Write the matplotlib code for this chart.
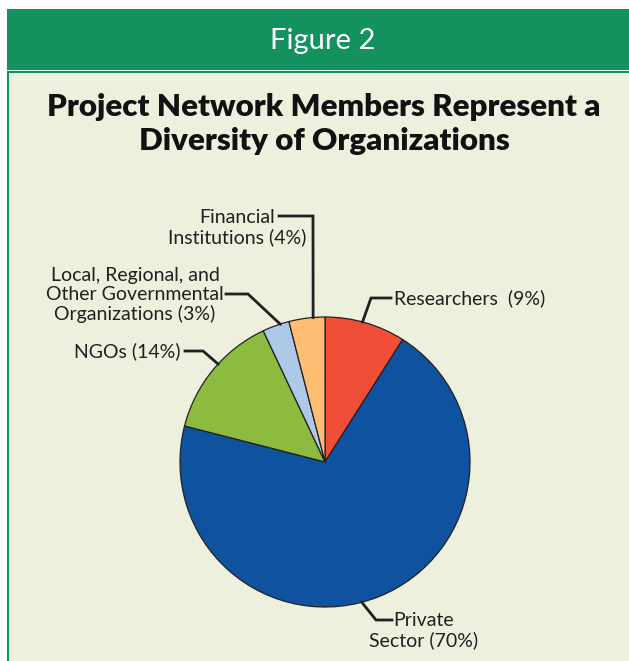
import matplotlib.pyplot as plt
from matplotlib.patches import Rectangle
import numpy as np

categories = ['Researchers', 'Private Sector', 'NGOs',
              'Local, Regional, and Other Governmental Organizations',
              'Financial Institutions']
shares = [9, 70, 14, 3, 4]
colors = ['#F04E37', '#0F52A0', '#8CBB3F', '#AEC8E8', '#FDBE74']

label_texts = ['Researchers  (9%)', 'Private\nSector (70%)', 'NGOs (14%)',
               'Local, Regional, and\nOther Governmental\nOrganizations (3%)',
               'Financial\nInstitutions (4%)']

W, H = 629, 661
fig = plt.figure(figsize=(W / 100, H / 100), dpi=100)
fig.patch.set_facecolor('white')

# background frame (pixel coords via an overlay axes)
bg = fig.add_axes([0, 0, 1, 1])
bg.set_xlim(0, W)
bg.set_ylim(H, 0)
bg.axis('off')
bg.add_patch(Rectangle((7, 9), W, 61, facecolor='#13925F', edgecolor='none'))
bg.add_patch(Rectangle((8, 72), W, H, facecolor='#ECF0DC', edgecolor='#13925F', lw=1.5))
bg.text(323, 41, 'Figure 2', color='white', fontsize=21, family='Lato',
        fontweight='normal', ha='center', va='center')
bg.text(324, 124, 'Project Network Members Represent a\nDiversity of Organizations',
        fontsize=22.5, family='Lato', fontweight='heavy', ha='center', va='center',
        linespacing=1.3, color='#111111')

# pie
cx, cy, r = 325, 462, 145
ax = fig.add_axes([(cx - r) / W, (H - cy - r) / H, 2 * r / W, 2 * r / H])
ax.pie(shares, colors=colors, startangle=90, counterclock=False,
       wedgeprops=dict(edgecolor='#222222', linewidth=0.9))
ax.set_xlim(-1, 1)
ax.set_ylim(-1, 1)


def px(x, y):
    return (x - cx) / r, (cy - y) / r


# leader lines: anchor angle (deg), elbow, end, text position, alignment
leaders = [
    (75.0, (371, 298), (391, 298), (394, 298), 'left'),
    (-75.3, (376, 620), (392, 620), (424, 631), 'center'),
    (137.5, (203, 351), (185, 351), (181, 351), 'right'),
    (108.0, (248, 294), (226, 294), (135, 295), 'center'),
    (94.7, (313, 216), (279, 216), (237, 228), 'center'),
]

for (ang, elbow, end, tpos, ha), txt in zip(leaders, label_texts):
    a = np.deg2rad(ang)
    p0 = (np.cos(a), np.sin(a))
    p1 = px(*elbow)
    p2 = px(*end)
    ax.plot([p0[0], p1[0], p2[0]], [p0[1], p1[1], p2[1]], color='#231F20',
            lw=2, clip_on=False, solid_joinstyle='miter')
    ax.text(*px(*tpos), txt, fontsize=14, family='Lato', ha=ha,
            va='center', color='#231F20', linespacing=1.15,
            multialignment='center', clip_on=False)

fig.savefig('out.png', dpi=100)
